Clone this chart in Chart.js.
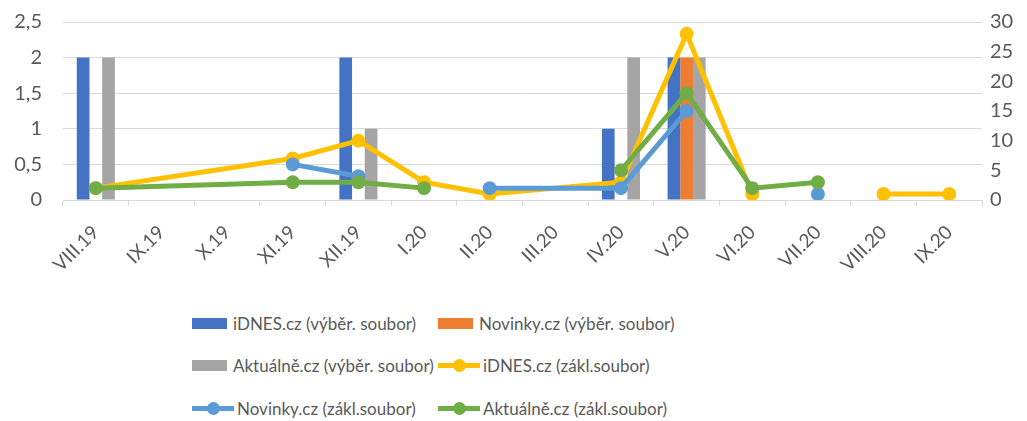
<!DOCTYPE html>
<html>
<head>
<meta charset="utf-8">
<script src="https://cdn.jsdelivr.net/npm/chart.js@4.4.1/dist/chart.umd.min.js"></script>
<style>
    body { margin: 0; background: #fff; font-family: Lato, sans-serif; }
    #wrap { position: relative; width: 1027px; height: 421px; }
    #box { position: absolute; left: 0; top: 0; width: 1027px; height: 300px; }
    #legend {
        position: absolute; left: 192px; top: 302px;
        display: grid; grid-template-columns: 246px auto; grid-auto-rows: 42.5px;
        color: #595959; font-size: 17px;
    }
    .item { display: flex; align-items: center; white-space: nowrap; }
    .rect { width: 35px; height: 11px; margin-right: 6px; }
    .line { position: relative; width: 42px; height: 5px; margin-right: 3px; }
    .line span { position: absolute; left: 15px; top: -4px; width: 13px; height: 13px; border-radius: 50%; }
</style>
</head>
<body>
<div id="wrap">
    <div id="box"><canvas id="chart"></canvas></div>
    <div id="legend"></div>
</div>
<script>
const months = ['VIII.19', 'IX.19', 'X.19', 'XI.19', 'XII.19', 'I.20', 'II.20', 'III.20', 'IV.20', 'V.20', 'VI.20', 'VII.20', 'VIII.20', 'IX.20'];

// výběrový soubor (left axis)
const idnesSample    = [2, null, null, null, 2, null, null, null, 1, 2, null, null, null, null];
const novinkySample  = [null, null, null, null, null, null, null, null, null, 2, null, null, null, null];
const aktualneSample = [2, null, null, null, 1, null, null, null, 2, 2, null, null, null, null];

// základní soubor (right axis); NaN = no value but line continues, null = gap
const idnesBase    = [2, NaN, NaN, 7, 10, 3, 1, NaN, 3, 28, 1, null, 1, 1];
const novinkyBase  = [null, null, null, 6, 4, null, 2, NaN, 2, 15, null, 1, null, null];
const aktualneBase = [2, NaN, NaN, 3, 3, 2, null, null, 5, 18, 2, 3, null, null];

function toPoints(values) {
    return values.map((y, i) => ({ x: months[i], y: y }))
        .filter(p => !Number.isNaN(p.y));
}

function bar(label, data, color) {
    return { type: 'bar', label: label, data: data, backgroundColor: color,
        yAxisID: 'y', order: 5, categoryPercentage: 0.58, barPercentage: 1 };
}

function line(label, data, color, order) {
    return { type: 'line', label: label, data: toPoints(data), borderColor: color,
        backgroundColor: color, pointBackgroundColor: color, pointBorderColor: color,
        borderWidth: 5, pointRadius: 7, pointBorderWidth: 0, tension: 0,
        spanGaps: false, yAxisID: 'y1', order: order };
}

const gridColor = '#D9D9D9';
const textColor = '#595959';
Chart.defaults.font.family = 'Lato, sans-serif';
Chart.defaults.color = textColor;

// fixed axis boxes so the plot area sits where it does in the original
function fitY(width) {
    return s => { s.width = width; s.paddingTop = 0; s.paddingBottom = 0; };
}

const chart = new Chart(document.getElementById('chart'), {
    data: {
        labels: months,
        datasets: [
            bar('iDNES.cz (výběr. soubor)', idnesSample, '#4472C4'),
            bar('Novinky.cz (výběr. soubor)', novinkySample, '#ED7D31'),
            bar('Aktuálně.cz (výběr. soubor)', aktualneSample, '#A5A5A5'),
            line('iDNES.cz (zákl.soubor)', idnesBase, '#FFC000', 2),
            line('Novinky.cz (zákl.soubor)', novinkyBase, '#5B9BD5', 1),
            line('Aktuálně.cz (zákl.soubor)', aktualneBase, '#70AD47', 0)
        ]
    },
    options: {
        responsive: true,
        maintainAspectRatio: false,
        animation: false,
        layout: { padding: { top: 22 } },
        plugins: {
            legend: { display: false },
            tooltip: { enabled: false }
        },
        scales: {
            x: {
                offset: true,
                grid: { offset: true, drawOnChartArea: false, color: gridColor, tickLength: 6 },
                border: { color: gridColor, width: 1 },
                ticks: { font: { size: 19 }, minRotation: 45, maxRotation: 45, padding: 15,
                    labelOffset: 0, autoSkip: false },
                afterFit: s => { s.height = 100; s.paddingLeft = 0; s.paddingRight = 0; }
            },
            y: {
                position: 'left',
                min: 0, max: 2.5,
                grid: { color: gridColor, drawTicks: false },
                border: { display: false },
                ticks: { stepSize: 0.5, padding: 21, font: { size: 20 },
                    callback: v => String(v).replace('.', ',') },
                afterFit: fitY(63)
            },
            y1: {
                position: 'right',
                min: 0, max: 30,
                grid: { display: false, drawTicks: false },
                border: { display: false },
                ticks: { stepSize: 5, padding: 8, font: { size: 20 } },
                afterFit: fitY(45)
            }
        }
    }
});

// legend in two columns like the original
const legend = document.getElementById('legend');
chart.data.datasets.forEach(ds => {
    const item = document.createElement('div');
    item.className = 'item';
    const mark = document.createElement('div');
    if (ds.type === 'bar') {
        mark.className = 'rect';
        mark.style.background = ds.backgroundColor;
    } else {
        mark.className = 'line';
        mark.style.background = ds.borderColor;
        const dot = document.createElement('span');
        dot.style.background = ds.borderColor;
        mark.appendChild(dot);
    }
    item.appendChild(mark);
    item.appendChild(document.createTextNode(ds.label));
    legend.appendChild(item);
});
</script>
</body>
</html>
